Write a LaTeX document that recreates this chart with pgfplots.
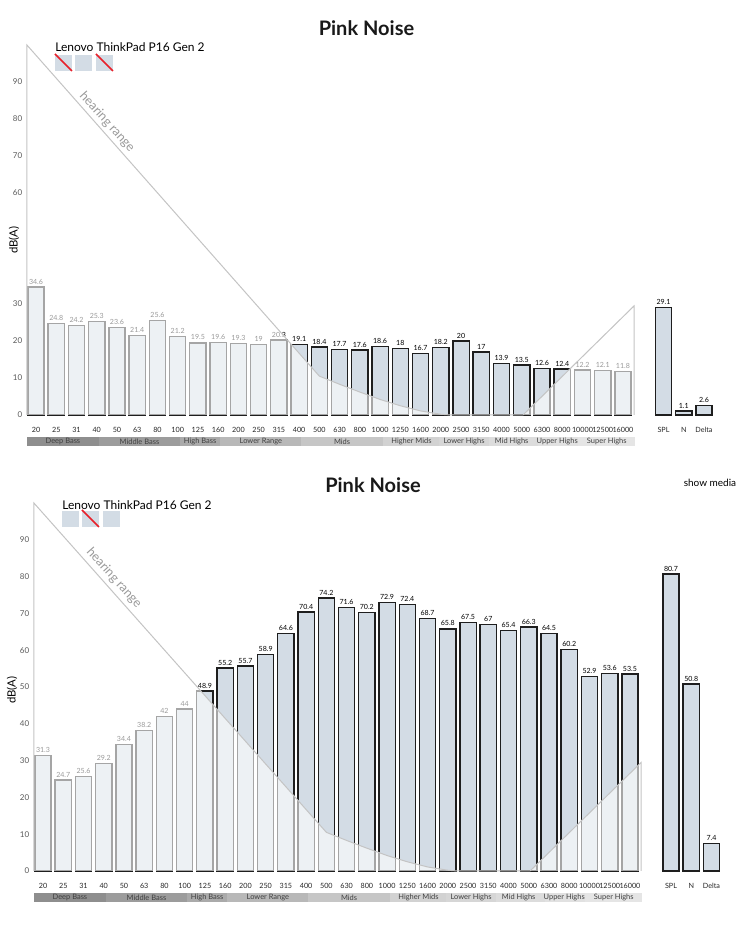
\documentclass[border=0pt]{standalone}
\usepackage{pgfplots}
\pgfplotsset{compat=1.18}
\usepackage{pgfplotstable}
\usepackage{fontspec}
\setmainfont{Lato}
\definecolor{barfill}{HTML}{D3DCE5}
\definecolor{baredge}{HTML}{1E1E1E}
\definecolor{hr}{HTML}{C4C4C4}
\definecolor{nred}{HTML}{E8202A}
\definecolor{bA}{HTML}{8E8E8E}
\definecolor{bB}{HTML}{9C9C9C}
\definecolor{bC}{HTML}{AAAAAA}
\definecolor{bD}{HTML}{B8B8B8}
\definecolor{bE}{HTML}{C6C6C6}
\definecolor{bF}{HTML}{D2D2D2}
\definecolor{bG}{HTML}{D6D6D6}
\definecolor{bH}{HTML}{DCDCDC}
\definecolor{bI}{HTML}{E1E1E1}
\definecolor{bJ}{HTML}{E5E5E5}

\pgfplotstableread{
x y
0 34.6
1 24.8
2 24.2
3 25.3
4 23.6
5 21.4
6 25.6
7 21.2
8 19.5
9 19.6
10 19.3
11 19
12 20.3
13 19.1
14 18.4
15 17.7
16 17.6
17 18.6
18 18
19 16.7
20 18.2
21 20
22 17
23 13.9
24 13.5
25 12.6
26 12.4
27 12.2
28 12.1
29 11.8
}\topmain
\pgfplotstableread{
x y
0 29.1
1 1.1
2 2.6
}\topright
\pgfplotstableread{
x y
0 31.3
1 24.7
2 25.6
3 29.2
4 34.4
5 38.2
6 42
7 44
8 48.9
9 55.2
10 55.7
11 58.9
12 64.6
13 70.4
14 74.2
15 71.6
16 70.2
17 72.9
18 72.4
19 68.7
20 65.8
21 67.5
22 67
23 65.4
24 66.3
25 64.5
26 60.2
27 52.9
28 53.6
29 53.5
}\botmain
\pgfplotstableread{
x y
0 80.7
1 50.8
2 7.4
}\botright
\pgfplotstableread{
x y
-0.45 0
-0.45 100
14 10.5
15 8.3
16 6.2
17 4.2
18 2.5
19 1.1
20 0.2
20.5 0
24.06 0
29.55 29.5
29.55 0
}\hearingrange

\pgfplotsset{
  nbc/.style={
    scale only axis, clip=false,
    ymin=0, ymax=100,
    axis line style={draw=none}, major tick length=0pt,
    /pgf/number format/assume math mode=true,
    yticklabel style={font=\fontsize{6}{7}\selectfont, text=black!65},
    xticklabel style={font=\fontsize{5.4}{6}\selectfont, text=black!85, anchor=center, yshift=-11.25pt},
  },
  nbcbars/.style={ybar, bar shift=0pt, bar width=12.2pt, fill=barfill, draw=baredge, line width=1pt,
    nodes near coords, nodes near coords style={font=\fontsize{5.3}{6}\selectfont, text=black, inner sep=1.6pt}},
  hrax/.style={scale only axis, clip=false, hide axis, ymin=0, ymax=100, xmin=-0.45, xmax=29.55},
}
\tikzset{bandtxt/.style={font=\fontsize{5.6}{6}\selectfont, text=black!75, inner sep=0pt}}

\newcommand{\hearing}{%
  \addplot[draw=none, fill=white, fill opacity=0.6] table[x=x,y=y] {\hearingrange};
  \addplot[draw=hr, line width=0.75pt] table[x=x,y=y] {\hearingrange};
}
\newcommand{\bands}{%
  \fill[bA] (axis cs:-0.45,-5.95) rectangle (axis cs:3.11,-8.4);
  \fill[bB] (axis cs:3.11,-5.95) rectangle (axis cs:7.11,-8.4);
  \fill[bC] (axis cs:7.11,-5.95) rectangle (axis cs:9.11,-8.4);
  \fill[bD] (axis cs:9.11,-5.95) rectangle (axis cs:13.11,-8.4);
  \fill[bE] (axis cs:13.11,-5.95) rectangle (axis cs:17.14,-8.4);
  \fill[bF] (axis cs:17.14,-5.95) rectangle (axis cs:19.9,-8.4);
  \fill[bG] (axis cs:19.9,-5.95) rectangle (axis cs:22.4,-8.4);
  \fill[bH] (axis cs:22.4,-5.95) rectangle (axis cs:24.8,-8.4);
  \fill[bI] (axis cs:24.8,-5.95) rectangle (axis cs:26.8,-8.4);
  \fill[bJ] (axis cs:26.8,-5.95) rectangle (axis cs:29.6,-8.4);
  \node[bandtxt] at (axis cs:1.33,-7.17) {Deep Bass};
  \node[bandtxt] at (axis cs:5.11,-7.17) {Middle Bass};
  \node[bandtxt] at (axis cs:8.11,-7.17) {High Bass};
  \node[bandtxt] at (axis cs:11.11,-7.17) {Lower Range};
  \node[bandtxt] at (axis cs:15.12,-7.17) {Mids};
  \node[bandtxt] at (axis cs:18.55,-7.17) {Higher Mids};
  \node[bandtxt] at (axis cs:21.15,-7.17) {Lower Highs};
  \node[bandtxt] at (axis cs:23.5,-7.17) {Mid Highs};
  \node[bandtxt] at (axis cs:25.75,-7.17) {Upper Highs};
  \node[bandtxt] at (axis cs:28.2,-7.17) {Super Highs};
}

\begin{document}
\begin{tikzpicture}

% ---------- top panel ----------
\begin{axis}[nbc, at={(20.18pt,401.25pt)}, anchor=south west,
  width=455.4pt, height=277.5pt, xmin=-0.45, xmax=29.55,
  ytick={0,10,20,30,60,70,80,90}, xtick={0,...,29},
  xticklabels={20,25,31,40,50,63,80,100,125,160,200,250,315,400,500,630,800,1000,1250,1600,2000,2500,3150,4000,5000,6300,8000,10000,12500,16000}]
  \addplot[nbcbars] table[x=x,y=y] {\topmain};
  \bands
\end{axis}
\begin{axis}[hrax, at={(20.18pt,401.25pt)}, anchor=south west, width=455.4pt, height=277.5pt]
  \hearing
\end{axis}
\begin{axis}[nbc, at={(488.52pt,401.25pt)}, anchor=south west,
  width=48.58pt, height=277.5pt, xmin=-0.6, xmax=2.6,
  ytick=\empty, xtick={0,1,2}, xticklabels={SPL,N,Delta}]
  \addplot[nbcbars] table[x=x,y=y] {\topright};
\end{axis}

% ---------- bottom panel ----------
\begin{axis}[nbc, at={(25.43pt,59.25pt)}, anchor=south west,
  width=455.4pt, height=276pt, xmin=-0.45, xmax=29.55,
  ytick={0,10,...,90}, xtick={0,...,29},
  xticklabels={20,25,31,40,50,63,80,100,125,160,200,250,315,400,500,630,800,1000,1250,1600,2000,2500,3150,4000,5000,6300,8000,10000,12500,16000}]
  \addplot[nbcbars] table[x=x,y=y] {\botmain};
  \bands
\end{axis}
\begin{axis}[hrax, at={(25.43pt,59.25pt)}, anchor=south west, width=455.4pt, height=276pt]
  \hearing
\end{axis}
\begin{axis}[nbc, at={(494.15pt,59.25pt)}, anchor=south west,
  width=48.58pt, height=276pt, xmin=-0.6, xmax=2.6,
  ytick=\empty, xtick={0,1,2}, xticklabels={SPL,N,Delta}]
  \addplot[nbcbars] table[x=x,y=y] {\botright};
\end{axis}

\begin{scope}[x=0.75pt,y=0.75pt]
  \path (0,0) rectangle (753,950);
  % titles
  \node[font=\fontsize{15}{18}\selectfont\bfseries, text=black!90] at (366.5,922) {Pink Noise};
  \node[font=\fontsize{15}{18}\selectfont\bfseries, text=black!90] at (373,465) {Pink Noise};
  \node[font=\fontsize{7.5}{9}\selectfont, text=black] at (710,467) {show media};
  % legends
  \node[font=\fontsize{9}{11}\selectfont, anchor=base west, inner sep=0pt] at (55,898) {Lenovo ThinkPad P16 Gen 2};
  \fill[barfill] (55,879) rectangle (72,895);
  \fill[barfill] (75,879) rectangle (92,895);
  \fill[barfill] (96,879) rectangle (113,895);
  \draw[nred, line width=1.1pt] (55,896) -- (72,879);
  \draw[nred, line width=1.1pt] (96,896) -- (113,879);
  \node[font=\fontsize{9}{11}\selectfont, anchor=base west, inner sep=0pt] at (62,440) {Lenovo ThinkPad P16 Gen 2};
  \fill[barfill] (62,423) rectangle (79,439);
  \fill[barfill] (82,423) rectangle (99,439);
  \fill[barfill] (103,423) rectangle (120,439);
  \draw[nred, line width=1.1pt] (82,440) -- (99,423);
  % y labels
  \node[font=\fontsize{8.5}{10}\selectfont, rotate=90] at (14,710) {dB(A)};
  \node[font=\fontsize{8.5}{10}\selectfont, rotate=90] at (12,260) {dB(A)};
  % hearing range labels
  \node[font=\fontsize{9.5}{11}\selectfont, text=black!40, rotate=-48] at (107,828) {hearing range};
  \node[font=\fontsize{9.5}{11}\selectfont, text=black!40, rotate=-48] at (114,372) {hearing range};
\end{scope}
\end{tikzpicture}
\end{document}
